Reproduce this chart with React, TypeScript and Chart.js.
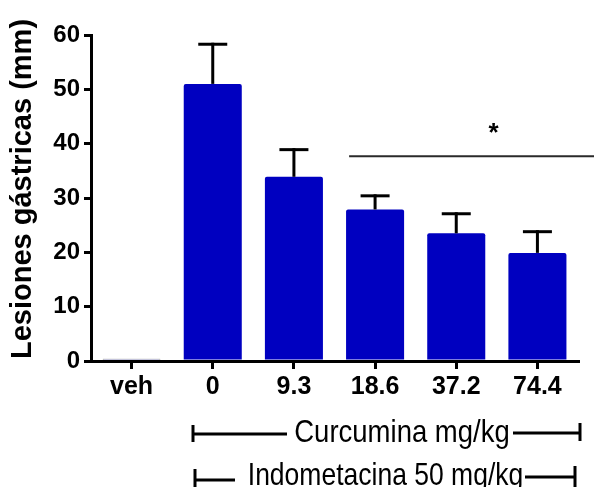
import React, { useEffect, useRef } from "react";
import { Chart, registerables } from "chart.js";

Chart.register(...registerables);

const categories = ["veh", "0", "9.3", "18.6", "37.2", "74.4"];
const means = [0.4, 51.0, 33.9, 27.9, 23.5, 19.9];
const upperErr = [null, 58.3, 38.9, 30.4, 27.1, 23.8];
const yTickValues = [0, 10, 20, 30, 40, 50, 60];
const yTitle = "Lesiones gástricas (mm)";
const sigValue = 37.7;
const sigStartIndex = 2.68;
const sigLabel = "*";
const sigLabelIndex = 4.46;
const curcuminaLabel = "Curcumina mg/kg";
const indometacinaLabel = "Indometacina 50 mg/kg";

const FONT = '"Liberation Sans", Arial, Helvetica, sans-serif';

const overlayPlugin = {
  id: "overlay",
  afterDraw(chart: any) {
    const { ctx, scales } = chart;
    const x = scales.x;
    const y = scales.y;
    ctx.save();
    const line = (x1: number, y1: number, x2: number, y2: number) => {
      ctx.beginPath();
      ctx.moveTo(x1, y1);
      ctx.lineTo(x2, y2);
      ctx.stroke();
    };
    // error bars
    ctx.strokeStyle = "#000";
    ctx.lineWidth = 3;
    ctx.lineCap = "butt";
    upperErr.forEach((u, i) => {
      if (u == null) return;
      const px = x.getPixelForValue(i);
      const top = y.getPixelForValue(u);
      const base = y.getPixelForValue(means[i]);
      line(px, base, px, top - 1.5);
      line(px - 14.5, top, px + 14.5, top);
    });
    // significance line
    ctx.strokeStyle = "#2a2a2a";
    ctx.lineWidth = 2;
    const sy = y.getPixelForValue(sigValue);
    line(x.getPixelForValue(sigStartIndex), sy, chart.width, sy);
    ctx.fillStyle = "#000";
    ctx.font = `bold 26px ${FONT}`;
    ctx.textAlign = "center";
    ctx.textBaseline = "alphabetic";
    ctx.fillText(sigLabel, x.getPixelForValue(sigLabelIndex), sy - 15);

    // y axis title
    ctx.save();
    ctx.translate(23, (y.top + y.bottom) / 2 - 9);
    ctx.rotate(-Math.PI / 2);
    ctx.font = `bold 29px ${FONT}`;
    ctx.textAlign = "center";
    ctx.textBaseline = "middle";
    ctx.fillText(yTitle, 0, 0);
    ctx.restore();

    // bottom brackets
    ctx.strokeStyle = "#000";
    ctx.lineWidth = 3;
    line(193, 434, 287, 434);
    line(193, 425, 193, 442);
    line(513, 433, 580, 433);
    line(580, 423, 580, 441);
    line(195, 480, 235, 480);
    line(195, 469, 195, 487);
    line(525, 477, 575, 477);
    line(575, 466, 575, 487);

    ctx.textAlign = "center";
    ctx.textBaseline = "alphabetic";
    ctx.save();
    ctx.translate(402, 442);
    ctx.scale(1, 1.15);
    ctx.font = `27.5px ${FONT}`;
    ctx.fillText(curcuminaLabel, 0, 0);
    ctx.restore();
    ctx.save();
    ctx.translate(385.5, 485);
    ctx.scale(1, 1.15);
    ctx.font = `26.5px ${FONT}`;
    ctx.fillText(indometacinaLabel, 0, 0);
    ctx.restore();
    ctx.restore();
  },
};

export default function App() {
  const ref = useRef<HTMLCanvasElement | null>(null);
  useEffect(() => {
    if (!ref.current) return;
    const chart = new Chart(ref.current, {
      type: "bar",
      data: {
        labels: categories,
        datasets: [
          {
            data: means,
            backgroundColor: "#0000C0",
            borderColor: ["#000", "#0000C0", "#0000C0", "#0000C0", "#0000C0", "#0000C0"],
            borderWidth: [1.5, 0, 0, 0, 0, 0],
            borderRadius: 2,
            borderSkipped: "bottom",
            barPercentage: 0.715,
            categoryPercentage: 1,
          },
        ],
      },
      options: {
        animation: false,
        responsive: false,
        maintainAspectRatio: false,
        devicePixelRatio: 1,
        layout: { padding: { left: 0, top: 35, right: 16, bottom: 0 } },
        plugins: {
          legend: { display: false },
          tooltip: { enabled: false },
          title: { display: false },
        },
        scales: {
          x: {
            type: "category",
            offset: true,
            grid: {
              display: true,
              offset: false,
              drawOnChartArea: false,
              drawTicks: true,
              tickLength: 8,
              lineWidth: 3,
              color: "#000",
            },
            border: { display: true, color: "#000", width: 3 },
            ticks: {
              color: "#000",
              padding: 3,
              maxRotation: 0,
              autoSkip: false,
              font: { family: FONT, size: 25, weight: "bold" },
            },
            afterFit: (s: any) => {
              s.height = 126;
            },
          },
          y: {
            min: 0,
            max: 60,
            afterBuildTicks: (s: any) => {
              s.ticks = yTickValues.map((v) => ({ value: v }));
            },
            grid: {
              display: true,
              drawOnChartArea: false,
              drawTicks: true,
              tickLength: 7,
              lineWidth: 3,
              color: "#000",
            },
            border: { display: true, color: "#000", width: 3 },
            ticks: {
              color: "#000",
              padding: 4,
              font: { family: FONT, size: 24, weight: "bold" },
            },
            title: { display: false },
            afterFit: (s: any) => {
              s.width = 91;
            },
          },
        },
      },
      plugins: [overlayPlugin],
    });
    return () => chart.destroy();
  }, []);
  return (
    <div style={{ position: "fixed", left: 0, top: 0, width: 594, height: 487, background: "#fff" }}>
      <canvas ref={ref} width={594} height={487} style={{ width: 594, height: 487, display: "block" }} />
    </div>
  );
}
